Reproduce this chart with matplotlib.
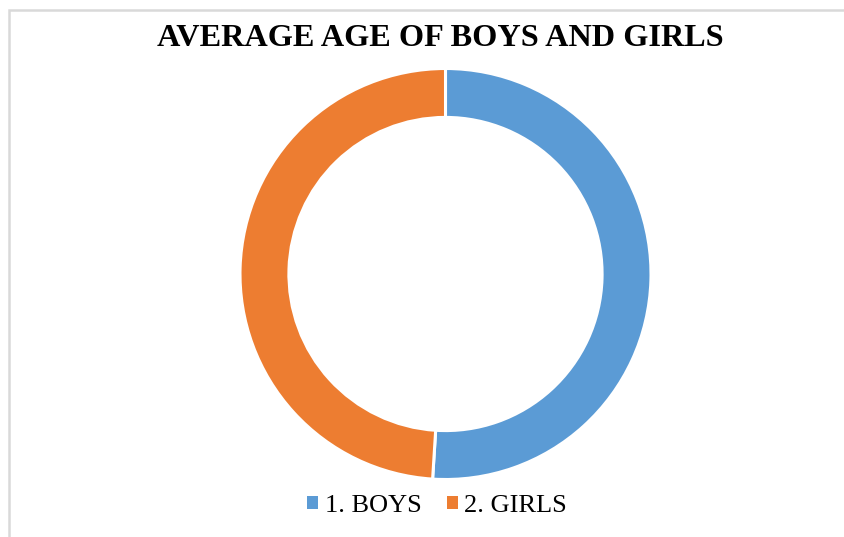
import matplotlib.pyplot as plt
from matplotlib.patches import Rectangle

# average age (years), read from the slice split (~51% / 49%)
categories = ["1. BOYS", "2. GIRLS"]
avg_age = [15.3, 14.7]
colors = ["#5B9BD5", "#ED7D31"]

W, H = 844, 537
fig = plt.figure(figsize=(W / 100, H / 100), dpi=100)

# donut axes placed in pixel terms
cx, cy, r = 445.5, 274, 205.5
ax = fig.add_axes([(cx - r) / W, (H - cy - r) / H, 2 * r / W, 2 * r / H])
wedges, _ = ax.pie(avg_age, colors=colors, startangle=90, counterclock=False,
                   radius=1.0, wedgeprops=dict(width=0.238, edgecolor="white", linewidth=2.2))
ax.set_xlim(-1.0, 1.0)
ax.set_ylim(-1.0, 1.0)
ax.set_aspect("equal")
ax.axis("off")

# light grey chart frame
fig.patches.append(Rectangle((8.5 / W, -0.05), 1.2, (H - 9.5) / H + 0.05,
                             transform=fig.transFigure, fill=False,
                             edgecolor="#D9D9D9", linewidth=1.8))

fig.text(440 / W, 1 - 38 / H, "AVERAGE AGE OF BOYS AND GIRLS",
         ha="center", va="center", fontsize=23.2, fontweight="bold",
         family="Liberation Serif")

leg = fig.legend(wedges, categories, loc="center", bbox_to_anchor=(437 / W, 1 - 506 / H),
                 ncol=2, frameon=False, handlelength=0.42, handleheight=0.42,
                 handletextpad=0.25, columnspacing=0.95,
                 prop=dict(family="Liberation Serif", size=19))
for h in leg.legend_handles:
    h.set_edgecolor("none")

fig.savefig("out.png", dpi=100)
